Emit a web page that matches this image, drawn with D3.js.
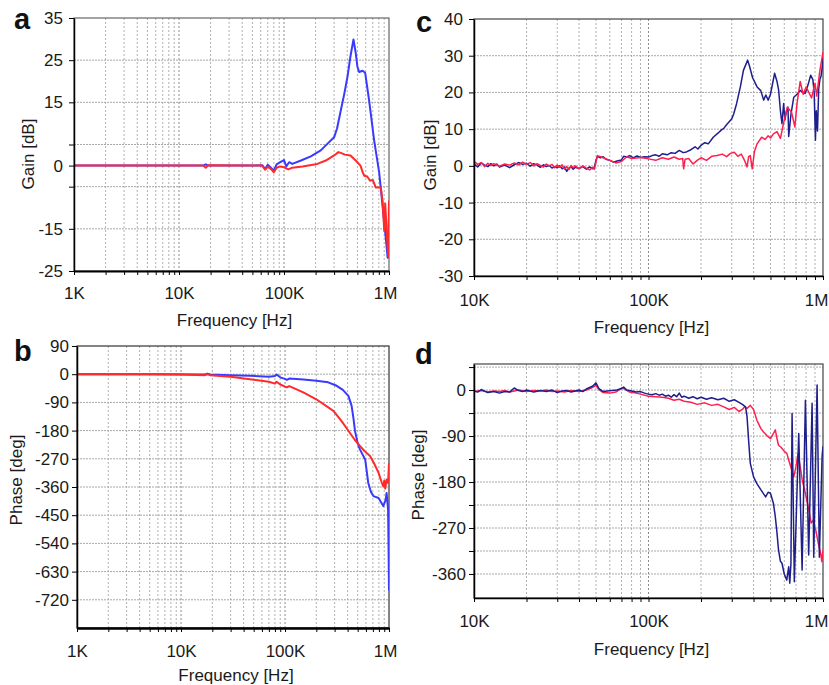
<!DOCTYPE html>
<html><head><meta charset="utf-8">
<script src="https://cdn.jsdelivr.net/npm/d3@7"></script>
<style>body{margin:0;background:#fff}svg{display:block}</style>
</head><body>
<svg id="chart" width="829" height="685"></svg>
<script>
// ---------- DATA (frequencies in kHz) ----------
// Panel a: Gain [dB], 1K..1M
const aBlueF = [1, 3, 10, 17, 18, 19, 30, 50, 62, 66, 70, 75, 80, 85, 92, 100, 105, 112, 120, 145, 180, 224, 260, 300, 320, 347, 375, 402, 430, 459, 480, 500, 519, 560, 593, 646, 722, 806, 871, 930, 970, 985];
const aBlueV = [0, 0, 0, 0, 0.3, 0, 0, 0, 0.1, -0.8, 0.2, -0.5, -1.2, 0.3, 0.8, 1.3, -0.2, 0.8, 0.4, 1.2, 2.2, 3.6, 5.2, 6.7, 8.8, 13, 17, 21, 26, 29.9, 27, 23.5, 22.2, 22.5, 22, 15.5, 6, -1.6, -9.9, -17, -21.8, -22];
const aRedF = [1, 10, 17, 18, 19, 50, 62, 66, 70, 75, 80, 85, 92, 100, 110, 120, 150, 208, 250, 300, 330, 347, 380, 430, 482, 535, 560, 580, 620, 660, 700, 750, 837, 868, 901, 920, 955, 975, 985, 1000];
const aRedV = [0, 0, 0, -0.5, 0.1, 0, 0, -1, -0.3, -0.8, -1.6, -0.5, -0.2, -0.4, -0.9, -0.5, -0.2, 0.4, 1.2, 2.4, 3.2, 3.0, 2.6, 2.4, 1.2, 0, -1.5, -2.4, -2.6, -3.6, -3.4, -5.2, -5.2, -8.3, -15.5, -9, -16.3, -20.2, -21.5, -8.3];

// Panel b: Phase [deg], 1K..1M
const bBlueF = [1, 5, 17, 18, 19, 30, 46, 70, 80, 83, 90, 100, 104, 110, 150, 200, 260, 314, 360, 407, 437, 455, 471, 500, 525, 590, 632, 670, 708, 794, 881, 930, 948, 980, 990, 1000];
const bBlueV = [0, 0, -1, 2, -1, -3, -5, -8, -6, -1, -10, -15, -18, -14, -17, -21, -26, -37, -50, -69, -101, -140, -181, -220, -240, -272, -347, -375, -389, -395, -421, -400, -379, -432, -550, -690];
const bRedF = [1, 5, 10, 17, 18, 19, 30, 46, 70, 80, 83, 90, 104, 110, 150, 200, 292, 350, 418, 470, 525, 580, 657, 720, 794, 850, 881, 900, 920, 948, 980, 1000];
const bRedV = [0, 0, -1, -3, 0, -3, -8, -16, -24, -30, -24, -33, -42, -38, -58, -80, -117, -150, -186, -210, -229, -245, -261, -285, -315, -345, -358, -340, -365, -336, -347, -283];

// Panel c: Gain [dB], 10K..1M
const cBlueF = [10, 10.5, 11, 11.5, 12, 12.5, 13, 13.5, 14, 15, 16, 17, 18, 19, 20, 21, 22, 23, 24, 25, 26, 27, 28, 29, 30, 31, 32, 33, 34, 35, 36, 37, 38, 40, 42, 44, 46, 48, 49, 50, 51, 53, 55, 57, 60, 63, 66, 70, 72, 75, 78, 82, 86, 90, 95, 100, 105, 110, 115, 120, 128, 135, 142, 150, 158, 165, 175, 185, 192, 200, 210, 220, 235, 250, 262, 270, 280, 290, 300, 308, 320, 336, 350, 370, 380, 395, 419, 440, 457, 470, 485, 500, 528, 545, 557, 570, 582, 595, 605, 618, 630, 636, 655, 680, 710, 740, 765, 790, 820, 850, 875, 890, 905, 915, 930, 945, 960, 975, 990, 1000];
const cBlueV = [0.5, -0.3, 0.8, 0.2, -0.2, 0.6, 0, 0.5, -0.3, 0.2, -0.5, 0.3, 0.9, 0.4, 0.7, -0.1, 0.6, 0.2, -0.4, 0.3, -0.2, 0.1, -0.6, -0.2, -0.5, 0, -0.8, -0.3, -1.5, -0.6, -0.2, -0.9, -0.4, -0.7, -0.2, -0.9, -0.3, -0.8, -0.2, 1.5, 2.6, 2.2, 2.5, 1.8, 1.5, 1.0, 1.3, 1.6, 2.6, 2.4, 2.8, 2.2, 2.7, 2.3, 2.5, 2.4, 2.8, 3.0, 2.6, 3.3, 3.0, 3.6, 3.4, 4.2, 3.6, 3.8, 4.4, 5.2, 4.6, 5.6, 6.3, 6.0, 7.8, 8.9, 9.8, 10.2, 11.2, 12.0, 12.8, 14.2, 17, 21.5, 26, 28.8, 27, 24, 21.5, 20.5, 17.9, 19.3, 17.9, 19.5, 25.2, 23, 20.6, 15, 11.5, 17, 12.5, 15, 16, 8, 14, 18.7, 19.5, 20.6, 20, 19.7, 22, 24.7, 23.5, 20, 7, 15, 9.5, 21, 23.5, 24.5, 27, 30];
const cRedF = [10, 10.5, 11, 11.5, 12, 12.5, 13, 14, 15, 16, 17, 18, 19, 20, 21, 22, 23, 24, 25, 26, 27, 28, 29, 30, 31, 32, 33, 34, 35, 36, 37, 38, 40, 42, 44, 46, 48, 49, 50, 51, 55, 60, 65, 70, 75, 80, 90, 100, 110, 120, 130, 140, 150, 157, 159, 162, 170, 180, 190, 200, 215, 230, 247, 265, 280, 295, 310, 325, 340, 355, 367, 375, 383, 393, 405, 419, 445, 465, 485, 500, 520, 545, 570, 600, 625, 660, 690, 710, 740, 770, 800, 860, 900, 920, 960, 1000];
const cRedV = [1.2, 0.4, 0.9, -0.2, 0.7, 0.1, 0.6, -0.1, 0.5, 0.2, 0.8, 0.3, 1.0, 0.4, 0.9, 0, 0.6, 0.1, -0.3, 0.5, 0, 0.4, -0.5, 0.2, -0.4, 0.3, -0.9, -0.2, -1.0, 0.1, -0.5, 0, -0.8, 0, -0.6, -1.1, -0.4, -0.9, 1.0, 2.8, 2.2, 1.5, 0.8, 1.2, 2.5, 2.0, 2.3, 1.9, 1.5, 2.2, 1.8, 2.4, 1.8, 2.0, -0.8, 1.8, 2.0, 0.5, 1.5, 2.2, 1.5, 2.6, 2.8, 3.2, 2.5, 3.4, 3.7, 2.6, 3.2, 1.5, -0.3, 2.5, 2.8, -0.8, 4, 6, 7.8, 7.2, 8.2, 7.6, 8.7, 9.3, 7.5, 12.5, 16, 14.6, 10.6, 17, 23, 19.5, 21.5, 18.5, 22.5, 19, 26, 31];

// Panel d: Phase [deg], 10K..1M
const dBlueF = [10, 10.5, 11, 11.5, 12, 13, 14, 15, 16, 17, 18, 19, 20, 22, 24, 26, 28, 30, 32, 34, 36, 38, 40, 42, 44, 46, 48, 50, 52, 55, 58, 62, 66, 70, 72, 75, 80, 85, 90, 95, 100, 105, 110, 115, 120, 125, 130, 135, 140, 145, 150, 155, 160, 170, 180, 190, 200, 215, 230, 250, 270, 290, 310, 330, 345, 360, 367, 375, 383, 400, 418, 440, 469, 485, 500, 520, 533, 545, 556, 570, 582, 600, 620, 636, 645, 655, 665, 685, 726, 759, 793, 828, 866, 885, 925, 953, 988, 1000];
const dBlueV = [-2, -4, 1, -2, -5, -3, -6, -3, -4, 4, -1, -3, 0, -4, -1, -3, 0, -5, -2, -1, -4, -2, 0, -3, 2, 5, 8, 14, 3, -3, -2, -1, 0, 3, 6, 0, -2, -4, -3, -6, -8, -9, -7, -10, -8, -12, -10, -14, -9, -13, -6, -14, -12, -16, -13, -17, -14, -18, -15, -19, -16, -22, -19, -24, -28, -33, -52, -100, -143, -170, -183, -195, -209, -200, -202, -222, -248, -280, -313, -335, -339, -360, -372, -346, -378, -340, -46, -375, -85, -352, -20, -323, -26, -327, 10, -327, -130, -110];
const dRedF = [10, 11, 12, 13, 14, 15, 16, 17, 18, 20, 22, 24, 26, 28, 30, 33, 36, 40, 44, 47, 50, 52, 55, 60, 65, 70, 73, 78, 85, 90, 100, 110, 120, 130, 140, 150, 160, 175, 190, 210, 230, 250, 270, 290, 310, 330, 345, 355, 367, 383, 400, 418, 440, 456, 480, 500, 520, 533, 545, 556, 575, 600, 620, 640, 660, 680, 700, 720, 740, 760, 790, 830, 855, 880, 910, 940, 970, 985, 1000];
const dRedV = [-3, -1, -4, -2, -3, -1, -4, -2, 0, -3, -1, -2, 0, -3, -2, -4, -1, -3, 0, 4, 9, 1, -5, -6, -4, 4, 2, -4, -6, -8, -12, -13, -14, -16, -20, -18, -22, -24, -28, -25, -30, -28, -33, -38, -34, -42, -38, -33, -36, -30, -38, -59, -75, -82, -90, -95, -85, -78, -95, -108, -112, -120, -124, -140, -155, -170, -150, -124, -150, -176, -200, -235, -260, -255, -275, -300, -320, -336, -313];

// Tick labels
const xLabelsAB = [1, 10, 100, 1000];
const xLabelsCD = [10, 100, 1000];
const xLabelText = {1: "1K", 10: "10K", 100: "100K", 1000: "1M"};
const aYLabels = [35, 25, 15, 0, -15, -25];
const aYGrid = [25, 15, 5, -5, -15];
const bYLabels = [90, 0, -90, -180, -270, -360, -450, -540, -630, -720];
const bYGrid = [0, -90, -180, -270, -360, -450, -540, -630, -720];
const cYLabels = [40, 30, 20, 10, 0, -10, -20, -30];
const cYGrid = [30, 20, 10, 0, -10, -20];
const dYLabels = [0, -90, -180, -270, -360];
const dYGrid = [45, 0, -45, -90, -135, -180, -225, -270, -315, -360];

const FONT = "'Liberation Sans', Arial, Helvetica, sans-serif";
const svg = d3.select("#chart");
const defs = svg.append("defs");

function zip(f, v) { return f.map((d, i) => [d, v[i]]); }
const near = (a, b) => Math.abs(a / b - 1) < 1e-6;

function panel(p) {
  const x = d3.scaleLog().domain(p.xDomain).range([p.left, p.right]);
  const y = d3.scaleLinear().domain(p.yDomain).range([p.bottom, p.top]);
  const g = svg.append("g");
  const cid = "clip-" + p.letter;
  defs.append("clipPath").attr("id", cid).append("rect")
    .attr("x", p.left).attr("y", p.top).attr("width", p.right - p.left).attr("height", p.bottom - p.top);

  // minor (non-labelled) log ticks
  const minor = x.ticks().filter(t => !p.xLabels.some(l => near(t, l)) && t > p.xDomain[0] && t < p.xDomain[1]);
  const innerMajor = p.xLabels.filter(l => l > p.xDomain[0] && l < p.xDomain[1]);
  const vgrid = minor.map(t => ({v: t, major: false})).concat(innerMajor.map(t => ({v: t, major: true})));
  g.append("g").selectAll("line").data(vgrid).join("line")
    .attr("x1", d => x(d.v)).attr("x2", d => x(d.v)).attr("y1", p.top).attr("y2", p.bottom)
    .attr("stroke", d => d.major ? "#8a8a8a" : "#b0b0b0").attr("stroke-width", 1)
    .attr("stroke-dasharray", "2,2");
  g.append("g").selectAll("line").data(p.yGrid).join("line")
    .attr("x1", p.left).attr("x2", p.right).attr("y1", d => y(d)).attr("y2", d => y(d))
    .attr("stroke", "#a8a8a8").attr("stroke-width", 1).attr("stroke-dasharray", "2,1");

  // frame
  g.append("rect").attr("x", p.left).attr("y", p.top).attr("width", p.right - p.left).attr("height", p.bottom - p.top)
    .attr("fill", "none").attr("stroke", p.frame).attr("stroke-width", 1.2);

  // series
  const line = d3.line().x(d => x(d[0])).y(d => y(d[1]));
  const sg = g.append("g").attr("clip-path", `url(#${cid})`);
  p.series.forEach(s => {
    sg.append("path").datum(zip(s.f, s.v)).attr("d", line)
      .attr("fill", "none").attr("stroke", s.color).attr("stroke-width", s.width)
      .attr("stroke-linejoin", "round");
  });

  // axes
  const yTicks = Array.from(new Set(p.yLabels.concat(p.yGrid)));
  const yAxis = d3.axisLeft(y).tickValues(yTicks).tickSize(5).tickSizeOuter(0)
    .tickPadding(p.yPad).tickFormat(d => p.yLabels.includes(d) ? String(d) : "");
  const ya = g.append("g").attr("transform", `translate(${p.left},0)`).call(yAxis);
  const xTicks = minor.concat(p.xLabels);
  const xAxis = d3.axisBottom(x).tickValues(xTicks).tickSize(4).tickSizeOuter(0)
    .tickPadding(p.xPad).tickFormat(d => p.xLabels.includes(d) ? xLabelText[d] : "");
  const xa = g.append("g").attr("transform", `translate(0,${p.bottom})`).call(xAxis);
  [ya, xa].forEach(a => {
    a.selectAll("text").attr("font-family", FONT).attr("font-size", 17).attr("fill", "#1a1a1a");
    a.selectAll(".tick line").attr("stroke", "#000");
  });
  // keep the last decade label inside the picture, as in the reference
  xa.selectAll(".tick text").filter(d => d === p.xDomain[1]).attr("dx", p.lastDx);
  ya.select(".domain").attr("stroke", "#000").attr("stroke-width", 1.5);
  xa.select(".domain").attr("stroke", "#000").attr("stroke-width", p.bottomW);

  // titles
  g.append("text").attr("x", (p.left + p.right) / 2 + 3).attr("y", p.xTitleY)
    .attr("text-anchor", "middle").attr("font-family", FONT).attr("font-size", 17).attr("fill", "#1a1a1a")
    .text("Frequency [Hz]");
  g.append("text").attr("transform", `translate(${p.yTitleX},${p.yTitleY}) rotate(-90)`)
    .attr("text-anchor", "middle").attr("dominant-baseline", "central")
    .attr("font-family", FONT).attr("font-size", 17).attr("fill", "#1a1a1a")
    .text(p.yTitle);
  g.append("text").attr("x", p.letterX).attr("y", p.letterY)
    .attr("font-family", FONT).attr("font-size", 29).attr("font-weight", "bold").attr("fill", "#111")
    .text(p.letter);
}

panel({letter: "a", left: 74, right: 389, top: 18, bottom: 271, xDomain: [1, 1000], yDomain: [-25, 35],
  yLabels: aYLabels, yGrid: aYGrid, xLabels: xLabelsAB, yPad: 6, xPad: 12, bottomW: 2, frame: "#666", lastDx: -4,
  xTitleY: 326, yTitle: "Gain [dB]", yTitleX: 28, yTitleY: 154, letterX: 14, letterY: 29,
  series: [{f: aBlueF, v: aBlueV, color: "#3a3aff", width: 2}, {f: aRedF, v: aRedV, color: "#ff2a2a", width: 2}]});
panel({letter: "b", left: 77, right: 389, top: 346, bottom: 628, xDomain: [1, 1000], yDomain: [-810, 90],
  yLabels: bYLabels, yGrid: bYGrid, xLabels: xLabelsAB, yPad: 3, xPad: 13, bottomW: 2.5, frame: "#333", lastDx: -4,
  xTitleY: 681, yTitle: "Phase [deg]", yTitleX: 16, yTitleY: 480, letterX: 14, letterY: 361,
  series: [{f: bBlueF, v: bBlueV, color: "#3a3aff", width: 2}, {f: bRedF, v: bRedV, color: "#ff2a2a", width: 2}]});
panel({letter: "c", left: 474, right: 823, top: 19, bottom: 276, xDomain: [10, 1000], yDomain: [-30, 40],
  yLabels: cYLabels, yGrid: cYGrid, xLabels: xLabelsCD, yPad: 6, xPad: 14, bottomW: 1.5, frame: "#444", lastDx: -7,
  xTitleY: 333, yTitle: "Gain [dB]", yTitleX: 430, yTitleY: 155, letterX: 416, letterY: 32,
  series: [{f: cBlueF, v: cBlueV, color: "#1f1f8c", width: 1.5}, {f: cRedF, v: cRedV, color: "#ff1f4f", width: 1.5}]});
panel({letter: "d", left: 474, right: 823, top: 364, bottom: 598, xDomain: [10, 1000], yDomain: [-407, 51],
  yLabels: dYLabels, yGrid: dYGrid, xLabels: xLabelsCD, yPad: 3, xPad: 13, bottomW: 1.5, frame: "#444", lastDx: -7,
  xTitleY: 655, yTitle: "Phase [deg]", yTitleX: 418, yTitleY: 475, letterX: 415, letterY: 364,
  series: [{f: dRedF, v: dRedV, color: "#ff1f4f", width: 1.5}, {f: dBlueF, v: dBlueV, color: "#1f1f8c", width: 1.5}]});
</script>
</body></html>
